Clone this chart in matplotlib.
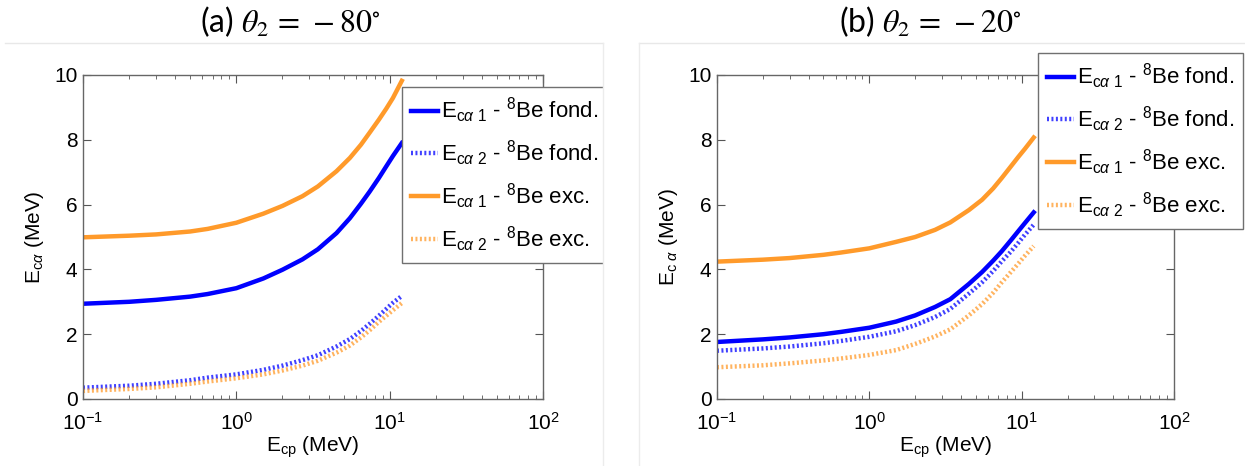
import matplotlib
matplotlib.use("Agg")
import matplotlib.pyplot as plt
from matplotlib.lines import Line2D
from matplotlib.patches import Rectangle
from matplotlib.ticker import LogLocator, NullFormatter

plt.rcParams['font.family'] = ['Liberation Sans', 'DejaVu Sans']
plt.rcParams['mathtext.fontset'] = 'custom'
plt.rcParams['mathtext.rm'] = 'Liberation Sans'
plt.rcParams['mathtext.it'] = 'Liberation Sans:italic'
plt.rcParams['mathtext.bf'] = 'Liberation Sans:bold'

# energie du proton (MeV)
e_cp = [0.1, 0.2, 0.3, 0.5, 0.65, 1, 1.5, 2, 2.7, 3.4, 4.5, 5.5, 6.5, 7.4, 8.5, 9.5, 10.5, 12]

# (a) theta2 = -80
a_fond_1 = [2.94, 3.00, 3.06, 3.16, 3.24, 3.42, 3.72, 3.99, 4.31, 4.62, 5.12, 5.58, 6.03, 6.40, 6.82, 7.18, 7.50, 7.90]
a_fond_2 = [0.35, 0.41, 0.47, 0.58, 0.66, 0.76, 0.90, 1.03, 1.20, 1.35, 1.62, 1.85, 2.10, 2.32, 2.57, 2.78, 2.97, 3.18]
a_exc_1 = [4.99, 5.04, 5.08, 5.17, 5.25, 5.44, 5.72, 5.96, 6.26, 6.56, 7.03, 7.44, 7.85, 8.22, 8.62, 8.96, 9.29, 9.82]
a_exc_2 = [0.25, 0.31, 0.36, 0.47, 0.54, 0.64, 0.76, 0.88, 1.03, 1.18, 1.43, 1.65, 1.90, 2.12, 2.38, 2.57, 2.74, 2.96]

# (b) theta2 = -20
b_fond_1 = [1.76, 1.84, 1.90, 2.00, 2.07, 2.20, 2.39, 2.58, 2.84, 3.08, 3.55, 3.92, 4.27, 4.56, 4.90, 5.18, 5.43, 5.76]
b_fond_2 = [1.49, 1.56, 1.62, 1.72, 1.79, 1.92, 2.09, 2.28, 2.53, 2.78, 3.25, 3.60, 3.95, 4.25, 4.55, 4.82, 5.07, 5.38]
b_exc_1 = [4.24, 4.30, 4.35, 4.45, 4.52, 4.65, 4.85, 5.00, 5.22, 5.45, 5.83, 6.15, 6.50, 6.82, 7.18, 7.47, 7.72, 8.07]
b_exc_2 = [0.98, 1.04, 1.10, 1.19, 1.25, 1.36, 1.51, 1.70, 1.93, 2.15, 2.58, 2.93, 3.28, 3.60, 3.92, 4.18, 4.42, 4.72]

labels = [r'E$_{\mathrm{c}\alpha\ 1}$ - $^{8}$Be fond.',
          r'E$_{\mathrm{c}\alpha\ 2}$ - $^{8}$Be fond.',
          r'E$_{\mathrm{c}\alpha\ 1}$ - $^{8}$Be exc.',
          r'E$_{\mathrm{c}\alpha\ 2}$ - $^{8}$Be exc.']

blue = '#0000ff'
orange = '#ff9a2a'
dot = (0, (0.45, 0.55))

fig = plt.figure(figsize=(12.45, 4.66), dpi=100)
W, H = 1245, 466


def panel(rect, series, ylab, leg_xy, title, title_x):
    ax = fig.add_axes(rect)
    ax.plot(e_cp, series[0], color=blue, lw=3.2, label=labels[0])
    ax.plot(e_cp, series[1], color=blue, lw=3.2, ls=dot, alpha=0.75, label=labels[1])
    ax.plot(e_cp, series[2], color=orange, lw=3.2, label=labels[2])
    ax.plot(e_cp, series[3], color=orange, lw=3.2, ls=dot, alpha=0.75, label=labels[3])
    ax.set_xscale('log')
    ax.set_xlim(0.1, 100)
    ax.set_ylim(0, 10)
    ax.set_yticks([0, 2, 4, 6, 8, 10])
    ax.xaxis.set_minor_locator(LogLocator(base=10, subs=range(2, 10)))
    ax.xaxis.set_minor_formatter(NullFormatter())
    ax.tick_params(which='both', direction='in', top=True, right=True,
                   labelsize=15, color='#555555', pad=4)
    ax.tick_params(axis='x', which='both', pad=9)
    ax.tick_params(which='major', length=6)
    ax.tick_params(which='minor', length=3)
    for s in ax.spines.values():
        s.set_color('#666666')
        s.set_linewidth(1.0)
    ax.set_xlabel(r'E$_{\mathrm{cp}}$ (MeV)', fontsize=15, labelpad=1)
    ax.set_ylabel(ylab, fontsize=15, labelpad=6)
    leg = ax.legend(loc='upper left', bbox_to_anchor=(leg_xy[0] / W, 1 - leg_xy[1] / H),
                    bbox_transform=fig.transFigure, fontsize=16, frameon=True,
                    fancybox=False, edgecolor='#707070', handlelength=1.2,
                    handletextpad=0.15, labelspacing=0.6, borderpad=0.4,
                    borderaxespad=0, framealpha=1)
    leg.get_frame().set_linewidth(1.0)
    fig.text(title_x / W, 1 - 22 / H, title, fontsize=23, family='Lato',
             math_fontfamily='stix', ha='center', va='center')
    return ax


panel([83 / W, 1 - 399 / H, 460 / W, 324 / H],
      [a_fond_1, a_fond_2, a_exc_1, a_exc_2], r'E$_{\mathrm{c}\alpha}$ (MeV)',
      (402, 87), r'(a) $\theta_2\,=\,-80^{\circ}$', 290)
panel([717 / W, 1 - 399 / H, 457 / W, 324 / H],
      [b_fond_1, b_fond_2, b_exc_1, b_exc_2], r'E$_{\mathrm{c}\ \alpha}$ (MeV)',
      (1038, 53), r'(b) $\theta_2\,=\,-20^{\circ}$', 930)

# masque entre les deux images
fig.add_artist(Rectangle((604 / W, 0), 35 / W, 1 - 43 / H, transform=fig.transFigure,
                         facecolor='white', edgecolor='none', zorder=10))
# cadres gris clair
for x0, x1 in [(5, 603), (639, 1245)]:
    fig.add_artist(Line2D([x0 / W, x1 / W], [1 - 43 / H, 1 - 43 / H],
                          transform=fig.transFigure, color='#e8e8e8', lw=1, zorder=11))
fig.add_artist(Line2D([603 / W, 603 / W], [0, 1 - 43 / H], transform=fig.transFigure,
                      color='#ececec', lw=1, zorder=11))
fig.add_artist(Line2D([639 / W, 639 / W], [0, 1 - 43 / H], transform=fig.transFigure,
                      color='#ececec', lw=1, zorder=11))

fig.savefig('out.png', dpi=100)
